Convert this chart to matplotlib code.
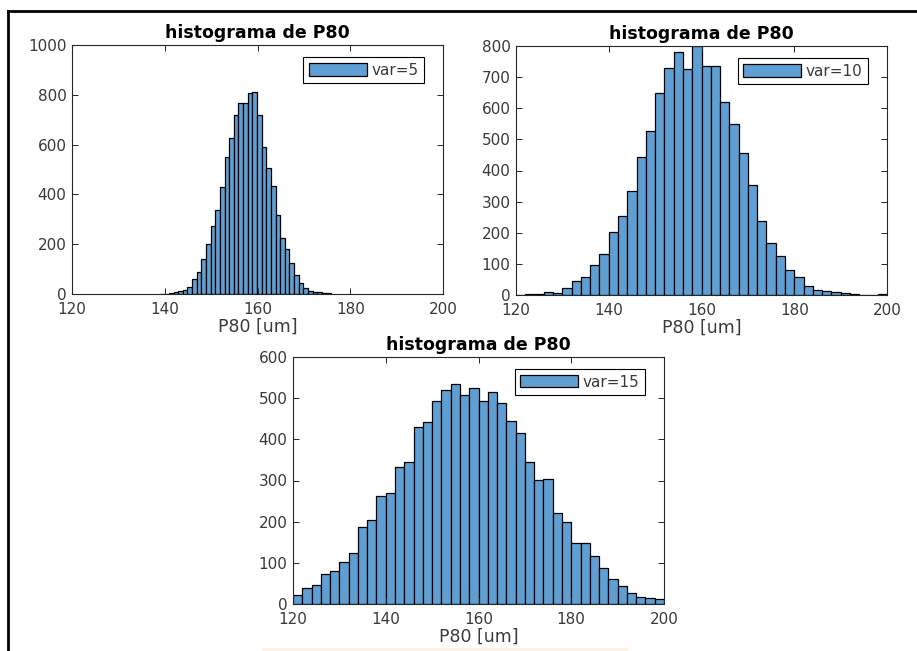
import numpy as np
import matplotlib.pyplot as plt
from matplotlib.lines import Line2D
from matplotlib.patches import Rectangle

# datos (conteos por bin)
p80_start_5 = 138.9
binw_5 = 1.0
counts_5 = [1, 2, 3, 7, 11, 16, 30, 60, 87, 139, 199, 273, 337, 431, 549, 628,
            717, 766, 766, 806, 810, 717, 591, 505, 434, 317, 226, 181, 123,
            76, 46, 25, 13, 8, 7, 5, 3]

p80_start_10 = 120
binw_10 = 2.0
counts_10 = [0, 2, 2, 10, 6, 22, 45, 57, 97, 133, 202, 253, 335, 444, 527, 650,
             730, 781, 727, 799, 736, 736, 621, 551, 457, 355, 237, 167, 126,
             81, 58, 29, 17, 14, 10, 6, 3, 1, 0, 3]

p80_start_15 = 120
binw_15 = 2.0
counts_15 = [23, 38, 47, 74, 79, 103, 123, 187, 205, 263, 270, 332, 346, 429,
             441, 493, 520, 534, 508, 525, 492, 516, 489, 444, 415, 346, 301,
             303, 220, 200, 149, 149, 117, 87, 61, 44, 27, 16, 14, 11]

labels = ['var=5', 'var=10', 'var=15']
yticks_list = [np.arange(0, 1001, 200), np.arange(0, 801, 100), np.arange(0, 601, 100)]
ylims = [1000, 800, 600]

bar_color = '#5f9fd4'
txt_gray = '#3a3a3a'

fig = plt.figure(figsize=(9.17, 6.51), dpi=100)

positions = [
    [72 / 917, 1 - 294 / 651, 371 / 917, 249 / 651],
    [516 / 917, 1 - 295 / 651, 371 / 917, 249 / 651],
    [293 / 917, 1 - 604 / 651, 371 / 917, 247 / 651],
]
datasets = [(p80_start_5, binw_5, counts_5),
            (p80_start_10, binw_10, counts_10),
            (p80_start_15, binw_15, counts_15)]

for i in range(3):
    ax = fig.add_axes(positions[i])
    start, w, cnt = datasets[i]
    edges = start + w * np.arange(len(cnt))
    ax.bar(edges, cnt, width=w, align='edge', color=bar_color,
           edgecolor='black', linewidth=0.9, label=labels[i])
    ax.set_xlim(120, 200)
    ax.set_ylim(0, ylims[i])
    ax.set_xticks([120, 140, 160, 180, 200])
    ax.set_yticks(yticks_list[i])
    ax.tick_params(direction='in', top=True, right=True, length=4, width=0.7,
                   labelsize=11, colors='#262626', labelcolor=txt_gray, pad=4)
    ax.tick_params(axis='x', pad=6)
    for s in ax.spines.values():
        s.set_color('#262626')
        s.set_linewidth(0.8)
    ax.set_title('histograma de P80', fontsize=12.5, fontweight='bold', pad=5)
    ax.set_xlabel('P80 [um]', fontsize=12.5, color=txt_gray, labelpad=0)
    leg = ax.legend(loc='upper right', bbox_to_anchor=(0.948, 0.95),
                    borderaxespad=0, fontsize=11, handlelength=3.8,
                    handleheight=0.85, handletextpad=0.3, borderpad=0.35,
                    fancybox=False, framealpha=1, edgecolor='black')
    leg.get_frame().set_linewidth(0.8)
    for t in leg.get_texts():
        t.set_color(txt_gray)

# marco de la captura (arriba e izquierda)
fig.add_artist(Line2D([8 / 917, 1], [1 - 11 / 651, 1 - 11 / 651],
                      color='black', linewidth=2, transform=fig.transFigure))
fig.add_artist(Line2D([8 / 917, 8 / 917], [0, 1 - 11 / 651],
                      color='black', linewidth=2, transform=fig.transFigure))
# franja clara bajo el tercer grafico
fig.add_artist(Rectangle((262 / 917, 0), 366 / 917, 3 / 651,
                         facecolor='#fdf3e3', edgecolor='none',
                         transform=fig.transFigure))

fig.savefig('out.png', dpi=100)
